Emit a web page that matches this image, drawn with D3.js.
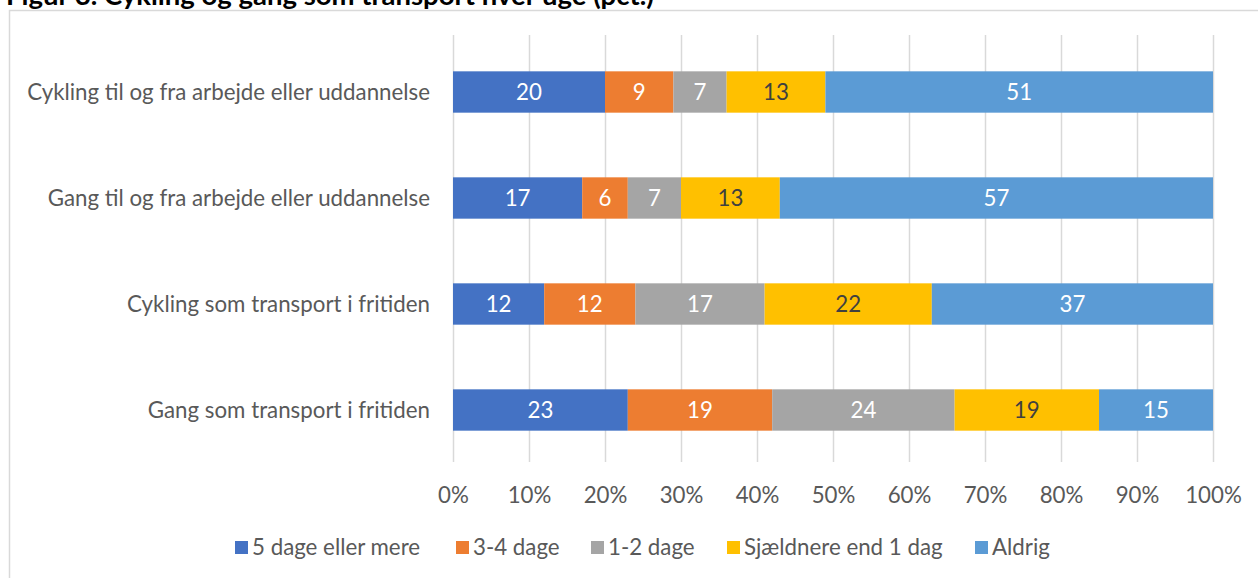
<!DOCTYPE html>
<html><head><meta charset="utf-8">
<script src="https://cdn.jsdelivr.net/npm/d3@7"></script>
<style>body{margin:0;background:#fff;} svg{display:block;font-family:Lato,"Open Sans",sans-serif;}</style>
</head><body>
<svg id="c" width="1258" height="578"></svg>
<script>
const categories = ["Cykling til og fra arbejde eller uddannelse","Gang til og fra arbejde eller uddannelse","Cykling som transport i fritiden","Gang som transport i fritiden"];
const seriesNames = ["5 dage eller mere","3-4 dage","1-2 dage","Sjældnere end 1 dag","Aldrig"];
const s5plus = [20,17,12,23];
const s34 = [9,6,12,19];
const s12 = [7,7,17,24];
const sRare = [13,13,22,19];
const sNever = [51,57,37,15];
const xTicks = [0,10,20,30,40,50,60,70,80,90,100];
const title = "Figur 3. Cykling og gang som transport hver uge (pct.)";

const colors = ["#4472C4","#ED7D31","#A5A5A5","#FFC000","#5B9BD5"];
const labelColors = ["#fff","#fff","#fff","#404040","#fff"];
const seriesVals = [s5plus,s34,s12,sRare,sNever];
const FS = 22.3;

const svg = d3.select("#c");
svg.append("text").attr("x",6).attr("y",5).attr("font-weight","bold").attr("font-size",27.5).attr("fill","#000").text(title);
svg.append("rect").attr("x",9.5).attr("y",10.5).attr("width",1260).attr("height",600).attr("fill","#fff").attr("stroke","#D9D9D9").attr("stroke-width",1.5);

const x = d3.scaleLinear().domain([0,100]).range([453,1213]);
const y = d3.scaleBand().domain(categories).range([39,463]).paddingInner(0.61).paddingOuter(0.305);

// gridlines
svg.append("g").selectAll("line").data(xTicks).join("line")
  .attr("x1",d=>Math.round(x(d))+0.5).attr("x2",d=>Math.round(x(d))+0.5)
  .attr("y1",35).attr("y2",462).attr("stroke","#D9D9D9").attr("stroke-width",1.5);

// axis labels
const ax = svg.append("g").attr("transform","translate(0,462)").call(d3.axisBottom(x).tickValues(xTicks).tickFormat(d=>d+"%").tickSize(0).tickPadding(0));
ax.select(".domain").remove();
ax.selectAll("text").attr("y",33).attr("dy","0.35em").attr("font-size",FS).attr("fill","#595959").attr("font-family","Lato,'Open Sans',sans-serif");

// stacked data
const rows = categories.map((c,i)=>{const o={cat:c}; seriesNames.forEach((s,j)=>o[s]=seriesVals[j][i]); return o;});
const stack = d3.stack().keys(seriesNames)(rows);

const g = svg.append("g");
stack.forEach((layer,j)=>{
  const lg = g.append("g");
  lg.selectAll("rect").data(layer).join("rect")
    .attr("x",d=>x(d[0])).attr("width",d=>x(d[1])-x(d[0]))
    .attr("y",d=>y(d.data.cat)).attr("height",y.bandwidth()).attr("fill",colors[j]);
  lg.selectAll("text").data(layer).join("text")
    .attr("x",d=>(x(d[0])+x(d[1]))/2).attr("y",d=>y(d.data.cat)+y.bandwidth()/2)
    .attr("dy","0.35em").attr("text-anchor","middle").attr("font-size",FS).attr("fill",labelColors[j])
    .text(d=>d[1]-d[0]);
});

// category labels
const ya = svg.append("g").attr("transform","translate(430,0)").call(d3.axisLeft(y).tickSize(0).tickPadding(0));
ya.select(".domain").remove();
ya.selectAll("text").attr("font-size",FS).attr("fill","#595959").attr("font-family","Lato,'Open Sans',sans-serif").attr("dy","0.35em");

// legend
const legX = [235,456,591,727,975];
const leg = svg.append("g");
seriesNames.forEach((s,j)=>{
  leg.append("rect").attr("x",legX[j]).attr("y",541).attr("width",13).attr("height",13).attr("fill",colors[j]);
  leg.append("text").attr("x",legX[j]+17).attr("y",547.5).attr("dy","0.35em").attr("font-size",FS).attr("fill","#595959").text(s);
});
</script>
</body></html>
